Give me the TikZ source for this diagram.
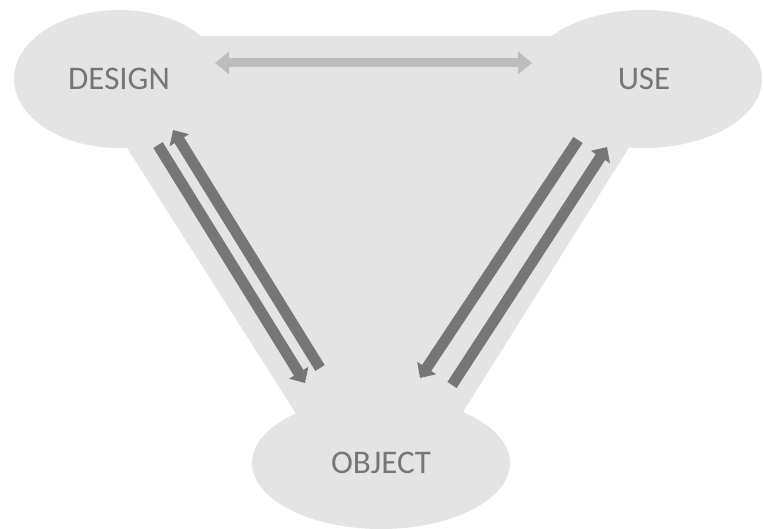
\documentclass[tikz,border=0pt]{standalone}
\usepackage{fontspec}
\setmainfont{Carlito}
\usetikzlibrary{shapes.geometric,arrows.meta}
\definecolor{blobfill}{HTML}{E4E4E4}
\definecolor{labelgray}{HTML}{767676}
\definecolor{darkarrow}{HTML}{767676}
\definecolor{lightarrow}{HTML}{BDBDBD}
\tikzset{
  blob/.style={ellipse, fill=blobfill, draw=none, inner sep=0pt,
    text=labelgray, font=\fontsize{33}{38}\selectfont},
  darkflow/.style={draw=darkarrow, line width=11pt,
    -{Triangle[width=22pt,length=12pt]}},
  lightflow/.style={draw=lightarrow, line width=9pt,
    {Triangle[width=22pt,length=14pt]}-{Triangle[width=22pt,length=14pt]}}
}
\begin{document}
\begin{tikzpicture}[x=1pt,y=-1pt]
\useasboundingbox (0,0) rectangle (763,529);
% connecting region
\fill[blobfill] (150,36) -- (610,36) -- (640,130) -- (458,420) -- (300,420) -- (122,140) -- cycle;
% ellipses
\node[blob, minimum width=210pt, minimum height=138pt] (design) at (119,79) {DESIGN};
\node[blob, minimum width=236pt, minimum height=138pt] (use) at (644,79) {USE};
\node[blob, minimum width=258pt, minimum height=132pt] (object) at (381,463) {OBJECT};
% end points of the flows
\coordinate (dU) at (215,63);
\coordinate (uD) at (532,63);
\coordinate (dOtail) at (158,145);
\coordinate (dOtip) at (305,383);
\coordinate (oDtail) at (320,368);
\coordinate (oDtip) at (173,130);
\coordinate (uOtail) at (578,140);
\coordinate (uOtip) at (420,378);
\coordinate (oUtail) at (452,385);
\coordinate (oUtip) at (607,147);
% flows
\draw[lightflow] (dU) -- (uD);
\draw[darkflow] (dOtail) -- (dOtip);
\draw[darkflow] (oDtail) -- (oDtip);
\draw[darkflow] (uOtail) -- (uOtip);
\draw[darkflow] (oUtail) -- (oUtip);
\end{tikzpicture}
\end{document}
